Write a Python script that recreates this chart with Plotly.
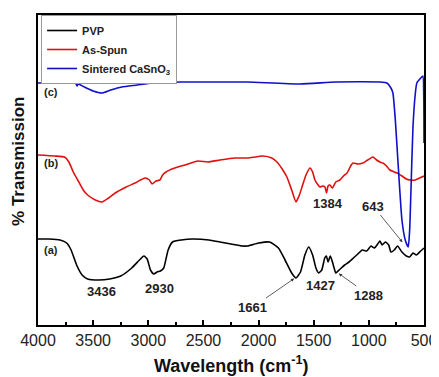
import plotly.graph_objects as go

# ---- data (wavenumber in cm^-1, transmission in arbitrary offset units) ----
pvp_wn = [4000, 3900, 3800, 3740, 3700, 3650, 3600, 3550, 3450, 3350, 3250, 3150, 3080, 3040,
          3010, 2980, 2950, 2920, 2890, 2860, 2820, 2780, 2700, 2600, 2450, 2350, 2250, 2150,
          2100, 2000, 1900, 1820, 1760, 1700, 1661, 1620, 1580, 1545, 1510, 1480, 1455, 1427,
          1400, 1385, 1370, 1350, 1330, 1300, 1288, 1250, 1220, 1180, 1140, 1100, 1060, 1020,
          980, 950, 920, 900, 880, 850, 820, 800, 770, 740, 700, 660, 630, 600, 570, 530, 500]
pvp_t = [86, 86, 85, 82, 75, 60, 50, 46, 45, 46, 49, 57, 65, 69,
         66, 55, 51, 53, 54, 57, 75, 83, 85, 86, 85, 83, 81, 79,
         79, 82, 83, 77, 65, 52, 47, 53, 70, 78, 70, 57, 52, 55,
         67, 69, 63, 69, 63, 52, 53, 57, 60, 63, 67, 71, 75, 74,
         79, 77, 81, 84, 80, 83, 80, 73, 75, 79, 73, 69, 68, 72, 70, 74, 77]

spun_wn = [4000, 3850, 3760, 3720, 3680, 3640, 3590, 3550, 3480, 3420, 3360, 3300, 3200, 3120,
           3030, 2990, 2966, 2930, 2895, 2870, 2840, 2760, 2667, 2550, 2460, 2350, 2214, 2100,
           1960, 1880, 1833, 1780, 1743, 1700, 1661, 1630, 1606, 1570, 1534, 1510, 1489, 1460,
           1443, 1420, 1398, 1384, 1370, 1353, 1330, 1300, 1263, 1230, 1198, 1160, 1144, 1100,
           1054, 1010, 963, 930, 900, 873, 840, 810, 770, 745, 700, 660, 628, 580, 540, 500]
spun_t = [170, 169, 168, 163, 153, 145, 135, 130, 125, 123, 127, 132, 138, 142,
          147, 145, 141, 144, 145, 150, 153, 157, 160, 164, 163, 165, 167, 167,
          169, 167, 163, 155, 148, 135, 123, 130, 138, 150, 157, 153, 145, 140,
          138, 139, 138, 132, 139, 140, 137, 143, 145, 149, 152, 160, 162, 161,
          162, 165, 168, 165, 163, 162, 159, 155, 153, 152, 149, 146, 145, 145, 147, 149]

sint_wn = [4000, 3700, 3660, 3646, 3635, 3580, 3500, 3420, 3340, 3240, 3100, 2966, 2700, 2300,
           2100, 1624, 1300, 900, 836, 800, 782, 760, 737, 700, 670, 643, 630, 619, 600, 580,
           565, 529, 510, 502, 500]
sint_t = [242, 242, 242, 239, 241, 238, 234, 232, 235, 238, 240, 242, 243, 243,
          243, 241, 243, 243, 242, 237, 232, 205, 165, 105, 85, 78, 95, 132, 198, 230,
          242, 247, 249, 225, 182]

series_names = ["PVP", "As-Spun", "Sintered CaSnO<sub>3</sub>"]
series_colors = ["#000000", "#e01010", "#1010c8"]
x_ticks = [4000, 3500, 3000, 2500, 2000, 1500, 1000, 500]

fig = go.Figure()
for wn, t, name, col in zip([pvp_wn, spun_wn, sint_wn], [pvp_t, spun_t, sint_t],
                            series_names, series_colors):
    fig.add_trace(go.Scatter(x=wn, y=t, mode="lines", name=name,
                             line=dict(color=col, width=1.6, shape="spline", smoothing=0.5)))

afont = dict(family="Arial, Liberation Sans", size=13, color="#222222")
bold = lambda s: "<b>" + s + "</b>"
anns = [
    dict(x=3420, y=34, text=bold("3436"), showarrow=False),
    dict(x=2894, y=37, text=bold("2930"), showarrow=False),
    dict(x=1443, y=40, text=bold("1427"), showarrow=False),
    dict(x=1371, y=122, text=bold("1384"), showarrow=False),
    dict(x=1670, y=47, text=bold("1661"), showarrow=True, ax=-42, ay=29,
         arrowhead=2, arrowsize=0.8, arrowwidth=0.8, arrowcolor="#333333", standoff=1),
    dict(x=1280, y=52, text=bold("1288"), showarrow=True, ax=31, ay=22,
         arrowhead=2, arrowsize=0.8, arrowwidth=0.8, arrowcolor="#333333", standoff=1),
    dict(x=690, y=82, text=bold("643"), showarrow=True, ax=-30, ay=-37,
         arrowhead=2, arrowsize=0.8, arrowwidth=0.8, arrowcolor="#333333", standoff=1),
]
for a in anns:
    a.update(xref="x", yref="y", font=afont)
    fig.add_annotation(**a)

lfont = dict(family="Arial, Liberation Sans", size=11, color="#222222")
for lab, yv in [("(c)", 233), ("(b)", 162), ("(a)", 75)]:
    fig.add_annotation(x=0.01, xref="paper", y=yv, yref="y", text=bold(lab),
                       showarrow=False, xanchor="left", font=lfont)

fig.add_annotation(x=-0.052, xref="paper", y=0.529, yref="paper", textangle=-90,
                   text="<b>% Transmission</b>", showarrow=False,
                   xanchor="center", yanchor="middle",
                   font=dict(family="Arial, Liberation Sans", size=17, color="#111111"))
fig.add_annotation(x=0.5, xref="paper", y=-0.129, yref="paper",
                   text="<b>Wavelength (cm<sup>-1</sup>)</b>", showarrow=False,
                   xanchor="center", yanchor="middle",
                   font=dict(family="Arial, Liberation Sans", size=18, color="#111111"))

# page body has an 8px margin, so the figure is sized/offset to land in place
fig.update_layout(
    width=431, height=369,
    margin=dict(l=30, r=15, t=7, b=52),
    plot_bgcolor="white", paper_bgcolor="white",
    showlegend=True,
    legend=dict(x=0.008, y=1.0, xanchor="left", yanchor="top",
                bgcolor="white", bordercolor="#999999", borderwidth=1,
                font=dict(family="Arial, Liberation Sans", size=11, color="#222222",
                          weight="bold"),
                itemwidth=30, tracegroupgap=0),
    xaxis=dict(range=[4000, 500], tickvals=x_ticks, ticks="inside", ticklen=5,
               tickwidth=1.5, tickcolor="black", automargin=False,
               minor=dict(dtick=250, ticks="inside", ticklen=3, tickcolor="black", tickwidth=1.5),
               showline=True, linecolor="black", linewidth=2, mirror=True,
               showgrid=False, zeroline=False,
               tickfont=dict(family="Arial, Liberation Sans", size=16, color="#222222")),
    yaxis=dict(range=[0, 310], showticklabels=False, ticks="", automargin=False,
               showline=True, linecolor="black", linewidth=2, mirror=True,
               showgrid=False, zeroline=False),
)

fig.write_html("out.html")
